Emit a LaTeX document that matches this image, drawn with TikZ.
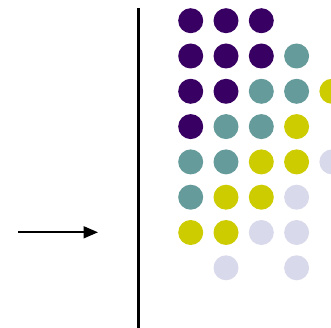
\documentclass[tikz,border=0pt]{standalone}
\usetikzlibrary{arrows.meta}
\definecolor{cpur}{HTML}{380062}
\definecolor{cteal}{HTML}{669B9B}
\definecolor{cyel}{HTML}{CCCC00}
\definecolor{clav}{HTML}{D9D9EC}
\tikzset{
  dot/.style={circle,inner sep=0pt,minimum size=25pt,draw=none},
  P/.style={dot,fill=cpur}, T/.style={dot,fill=cteal},
  Y/.style={dot,fill=cyel}, L/.style={dot,fill=clav},
  wall/.style={line width=2.7pt},
  arr/.style={line width=1.8pt,-{Triangle[length=14.5pt,width=12pt]}}
}
\begin{document}
\begin{tikzpicture}[x=1pt,y=-1pt]
\useasboundingbox (0,0) rectangle (331,328);
\clip (0,0) rectangle (331,328);
\draw[wall] (138.7,8) -- (138.7,330);
\coordinate (a0) at (18,232.3);
\coordinate (a1) at (98,232.3);
\draw[arr] (a0) -- (a1);
\foreach \r/\c/\s in {1/1/P,1/2/P,1/3/P,
  2/1/P,2/2/P,2/3/P,2/4/T,
  3/1/P,3/2/P,3/3/T,3/4/T,3/5/Y,
  4/1/P,4/2/T,4/3/T,4/4/Y,
  5/1/T,5/2/T,5/3/Y,5/4/Y,5/5/L,
  6/1/T,6/2/Y,6/3/Y,6/4/L,
  7/1/Y,7/2/Y,7/3/L,7/4/L,
  8/2/L,8/4/L}
  \node[\s] (d\r\c) at ({190.7+35.3*(\c-1)},{20.7+35.3*(\r-1)}) {};
\end{tikzpicture}
\end{document}
